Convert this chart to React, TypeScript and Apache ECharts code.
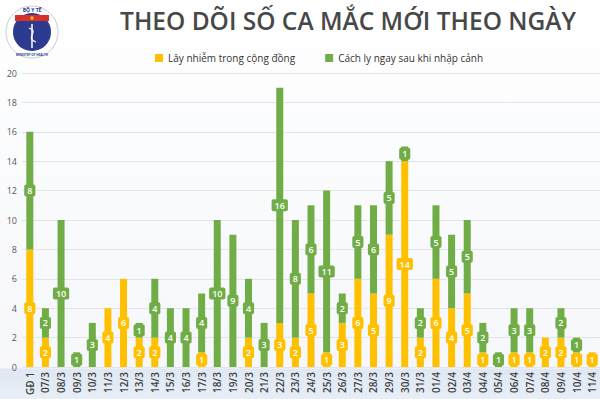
import React, { useEffect, useRef } from "react";
import * as echarts from "echarts";

const categories = [
  "GĐ 1", "07/3", "08/3", "09/3", "10/3", "11/3", "12/3", "13/3", "14/3", "15/3",
  "16/3", "17/3", "18/3", "19/3", "20/3", "21/3", "22/3", "23/3", "24/3", "25/3",
  "26/3", "27/3", "28/3", "29/3", "30/3", "31/3", "01/4", "02/4", "03/4", "04/4",
  "05/4", "06/4", "07/4", "08/4", "09/4", "10/4", "11/4",
];
const community = [
  8, 2, 0, 0, 0, 4, 6, 2, 2, 0,
  0, 1, 0, 0, 2, 0, 3, 2, 5, 1,
  3, 6, 5, 9, 14, 2, 6, 4, 5, 1,
  0, 1, 1, 2, 2, 1, 1,
];
const quarantine = [
  8, 2, 10, 1, 3, 0, 0, 1, 4, 4,
  4, 4, 10, 9, 4, 3, 16, 8, 6, 11,
  2, 5, 6, 5, 1, 2, 5, 5, 5, 2,
  1, 3, 3, 0, 2, 1, 0,
];
const yTicks = { min: 0, max: 20, interval: 2 };
const seriesNames = ["Lây nhiễm trong cộng đồng", "Cách ly ngay sau khi nhập cảnh"];
const titleText = "THEO DÕI SỐ CA MẮC MỚI THEO NGÀY";

const YELLOW = "#FFC000";
const GREEN = "#70AD47";

function makeSeries(name: string, values: number[], color: string) {
  return {
    name,
    type: "bar",
    stack: "total",
    barWidth: 7,
    itemStyle: { color },
    data: values.map((v) => (v === 0 ? null : v)),
    label: {
      show: true,
      position: "inside",
      color: "#ffffff",
      fontSize: 9,
      fontFamily: "Open Sans",
      fontWeight: 600,
      backgroundColor: color,
      borderRadius: 2,
      padding: [2, 3, 1, 3],
    },
  };
}

export default function App() {
  const ref = useRef<HTMLDivElement>(null);
  useEffect(() => {
    if (!ref.current) return;
    const chart = echarts.init(ref.current, null, { renderer: "svg" });
    chart.setOption({
      animation: false,
      backgroundColor: "transparent",
      textStyle: { fontFamily: "Open Sans" },
      legend: {
        top: 48,
        left: 150,
        itemWidth: 8,
        itemHeight: 8,
        itemGap: 30,
        icon: "rect",
        textStyle: { fontSize: 10, color: "#333333", fontFamily: "Open Sans" },
        data: seriesNames,
      },
      grid: { left: 22, top: 73, width: 583, height: 294, containLabel: false },
      xAxis: {
        type: "category",
        data: categories,
        axisLine: { show: false },
        axisTick: { show: false },
        axisLabel: {
          rotate: 90,
          interval: 0,
          fontSize: 10,
          color: "#404040",
          margin: 5,
          fontWeight: 600,
        },
      },
      yAxis: {
        type: "value",
        min: yTicks.min,
        max: yTicks.max,
        interval: yTicks.interval,
        axisLine: { show: false },
        axisTick: { show: false },
        axisLabel: { fontSize: 9, color: "#595959", margin: 5 },
        splitLine: { lineStyle: { color: "#e2e4e8", width: 1 } },
      },
      graphic: [
        {
          type: "text",
          x: 348,
          y: 20,
          style: {
            text: titleText,
            fill: "#474747",
            font: "600 24.5px 'Open Sans'",
            textAlign: "center",
            textVerticalAlign: "middle",
          },
        },
        {
          type: "group",
          x: 32,
          y: 32,
          children: [
            { type: "circle", shape: { cx: 0, cy: 0, r: 26 }, style: { fill: "#ffffff", stroke: "#c9ccd6", lineWidth: 1 } },
            { type: "circle", shape: { cx: 0, cy: 0, r: 19 }, style: { fill: "#2c3a8f" } },
            { type: "rect", shape: { x: -17, y: -17, width: 34, height: 6 }, style: { fill: "#d9302a" } },
            { type: "circle", shape: { cx: 0, cy: -14, r: 1.6 }, style: { fill: "#ffd400" } },
            { type: "line", shape: { x1: 0, y1: -8, x2: 0, y2: 16 }, style: { stroke: "#ffffff", lineWidth: 1.5 } },
            {
              type: "bezierCurve",
              shape: { x1: -3, y1: -4, x2: 4, y2: 10, cpx1: 8, cpy1: 0, cpx2: -8, cpy2: 6 },
              style: { stroke: "#ffffff", lineWidth: 1.2, fill: "none" },
            },
            { type: "text", x: 0, y: -22, style: { text: "BỘ Y TẾ", fill: "#2c3a8f", font: "bold 5px 'Open Sans'", textAlign: "center", textVerticalAlign: "middle" } },
            { type: "text", x: 0, y: 22.5, style: { text: "MINISTRY OF HEALTH", fill: "#2c3a8f", font: "bold 3px 'Open Sans'", textAlign: "center", textVerticalAlign: "middle" } },
          ],
        },
      ],
      series: [
        makeSeries(seriesNames[0], community, YELLOW),
        makeSeries(seriesNames[1], quarantine, GREEN),
      ],
    });
    return () => chart.dispose();
  }, []);
  return (
    <div
      style={{
        position: "fixed",
        left: 0,
        top: 0,
        width: 600,
        height: 399,
        background:
          "linear-gradient(to bottom, #ffffff 0px, #f5f7fb 368px, #dfe8f3 369px, #e8eef6 399px)",
      }}
    >
      <div ref={ref} style={{ width: 600, height: 399 }} />
    </div>
  );
}
